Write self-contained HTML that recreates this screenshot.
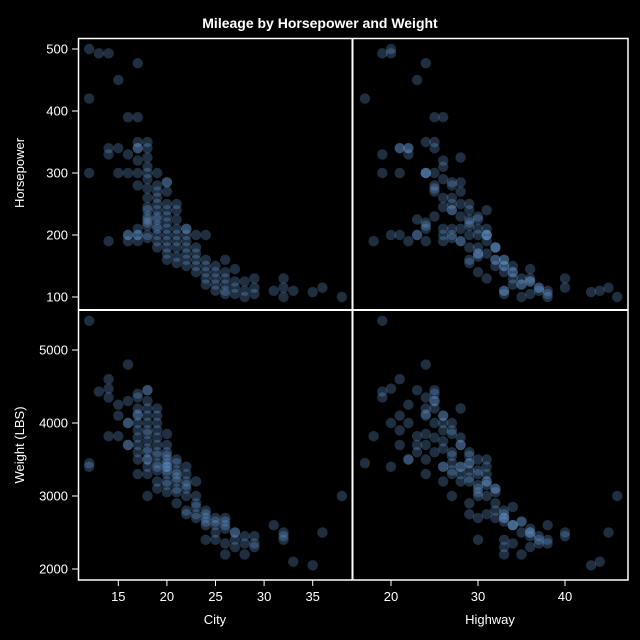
<!DOCTYPE html>
<html><head><meta charset="utf-8"><style>
html,body{margin:0;padding:0;background:#000;overflow:hidden;}
svg{display:block;}
svg text{font-family:"Liberation Sans",sans-serif;fill:#fff;}
</style></head><body>
<svg id="c" width="640" height="640" viewBox="0 0 640 640">
<rect width="640" height="640" fill="#000"/>
<text x="320" y="28" text-anchor="middle" font-size="14" font-weight="bold">Mileage by Horsepower and Weight</text>
<g id="marks"></g>
<g id="axes"></g>
</svg>
<script>
const cityTicks=[15,20,25,30,35];
const hwyTicks=[20,30,40];
const hpTicks=[100,200,300,400,500];
const wtTicks=[2000,3000,4000,5000];
const city=[12,13,14,15,17,12,12,14,14,15,16,16,16,17,17,17,17,17,17,17,17,17,16,18,18,18,18,18,18,18,18,18,18,18,18,18,18,19,19,19,19,19,19,19,19,19,19,19,19,20,20,20,20,20,20,20,20,20,20,20,20,21,21,21,21,21,21,21,21,21,22,22,22,22,22,22,22,23,23,23,23,23,23,24,24,24,24,24,24,25,25,25,25,25,26,26,26,26,26,27,27,27,28,28,28,29,29,29,31,32,32,33,35,36,38,32,26,27,22,16,15,14,18,19,20,17,16,17,18];
const hwy=[20,19,20,23,24,17,19,21,18,22,22,24,25,26,24,25,26,24,25,23,22,24,21,25,26,25,27,26,25,24,26,27,25,28,26,24,27,27,26,28,27,29,28,27,26,30,28,25,29,28,29,30,27,31,28,29,30,28,32,29,27,29,30,31,29,28,32,30,31,29,30,31,32,30,29,33,31,31,32,33,34,30,31,32,33,34,31,35,30,33,34,32,35,33,34,35,33,36,34,36,37,33,36,37,35,36,38,40,38,40,37,44,43,45,46,38,33,36,26,20,21,19,23,24,27,23,24,21,22];
const hp=[500,493,493,450,477,420,300,340,190,340,330,300,390,390,350,340,320,300,280,200,190,210,200,300,290,275,260,245,230,215,200,195,350,325,310,220,240,280,260,250,240,225,210,200,190,180,230,270,215,270,240,230,210,200,190,180,170,285,160,220,250,250,225,210,200,190,180,165,240,155,210,190,180,170,160,150,200,200,180,160,150,140,170,160,150,140,130,120,200,140,130,150,120,110,140,130,110,105,120,125,115,105,125,110,100,130,105,115,110,130,115,110,108,115,100,100,160,145,210,200,300,330,225,300,285,200,190,340,340];
const weight=[3400,4430,4470,3820,4120,3450,5400,4600,3820,4250,4000,4800,4300,4100,4200,4400,4000,4350,3800,3600,3500,3300,3700,4300,4100,4000,3900,3750,3600,3500,3400,3300,4450,4200,3650,3850,3000,4000,3900,3700,3550,3450,3400,3600,3200,3100,3800,4200,3350,3700,3550,3500,3450,3400,3300,3200,3150,3400,3050,3600,3850,3450,3350,3300,3250,3200,3100,3050,3500,2900,3300,3200,3100,3000,2750,2800,3150,3200,2900,2750,2850,2700,3000,2800,2700,2600,2750,2650,2400,2650,2600,2700,2500,2400,2600,2650,2700,2550,2350,2500,2400,2300,2450,2350,2200,2300,2350,2450,2600,2500,2450,2100,2050,2500,3000,2400,2200,2500,3400,4000,4100,4350,4450,4100,3350,3700,3700,3900,3500];
const xCity=v=>118.3+(v-15)*9.72;
const xHwy=v=>391+(v-20)*8.7;
const yHp=v=>297-(v-100)*0.62;
const yWt=v=>569-(v-2000)*0.073;
const NS='http://www.w3.org/2000/svg';
const marks=document.getElementById('marks');
const axes=document.getElementById('axes');
function mk(tag,attrs,parent){const e=document.createElementNS(NS,tag);for(const k in attrs)e.setAttribute(k,attrs[k]);parent.appendChild(e);return e;}
const panels=[[city,hp,xCity,yHp],[hwy,hp,xHwy,yHp],[city,weight,xCity,yWt],[hwy,weight,xHwy,yWt]];
panels.forEach(p=>{
  for(let i=0;i<city.length;i++){
    const c=mk('circle',{cx:p[2](p[0][i]),cy:p[3](p[1][i]),r:5.2,fill:'rgb(110,170,230)','fill-opacity':0.28},marks);
    
    
  }
});
const f=mk('rect',{x:78.5,y:38.5,width:549.5,height:541.5,fill:'none',stroke:'#fff','stroke-width':1.5},axes);


const d1=mk('line',{x1:352.5,y1:38,x2:352.5,y2:580,stroke:'#fff','stroke-width':2},axes);


const d2=mk('line',{x1:78,y1:310,x2:628,y2:310,stroke:'#fff','stroke-width':2},axes);


function xt(ticks,fn){ticks.forEach(t=>{const x=fn(t);
  const l=mk('line',{x1:x,y1:580,x2:x,y2:586,stroke:'#fff'},axes);
  
  
  const tx=mk('text',{x:x,y:601,'text-anchor':'middle','font-size':13},axes);tx.textContent=t;
  
  
});}
function yt(ticks,fn){ticks.forEach(t=>{const y=fn(t);
  const l=mk('line',{x1:72,y1:y,x2:78,y2:y,stroke:'#fff'},axes);
  
  
  const tx=mk('text',{x:68,y:y+4.5,'text-anchor':'end','font-size':13},axes);tx.textContent=t;
  
  
});}
xt(cityTicks,xCity);xt(hwyTicks,xHwy);yt(hpTicks,yHp);yt(wtTicks,yWt);
const titles=[['City',215,624,0],['Highway',490,624,0],['Horsepower',24,173,1],['Weight (LBS)',24,445,1]];
titles.forEach(t=>{
  const e=mk('text',{x:t[1],y:t[2],'text-anchor':'middle','font-size':13},axes);
  if(t[3])e.setAttribute('transform','rotate(-90 '+t[1]+' '+t[2]+')');
  e.textContent=t[0];
  
  
});
</script>
</body></html>
